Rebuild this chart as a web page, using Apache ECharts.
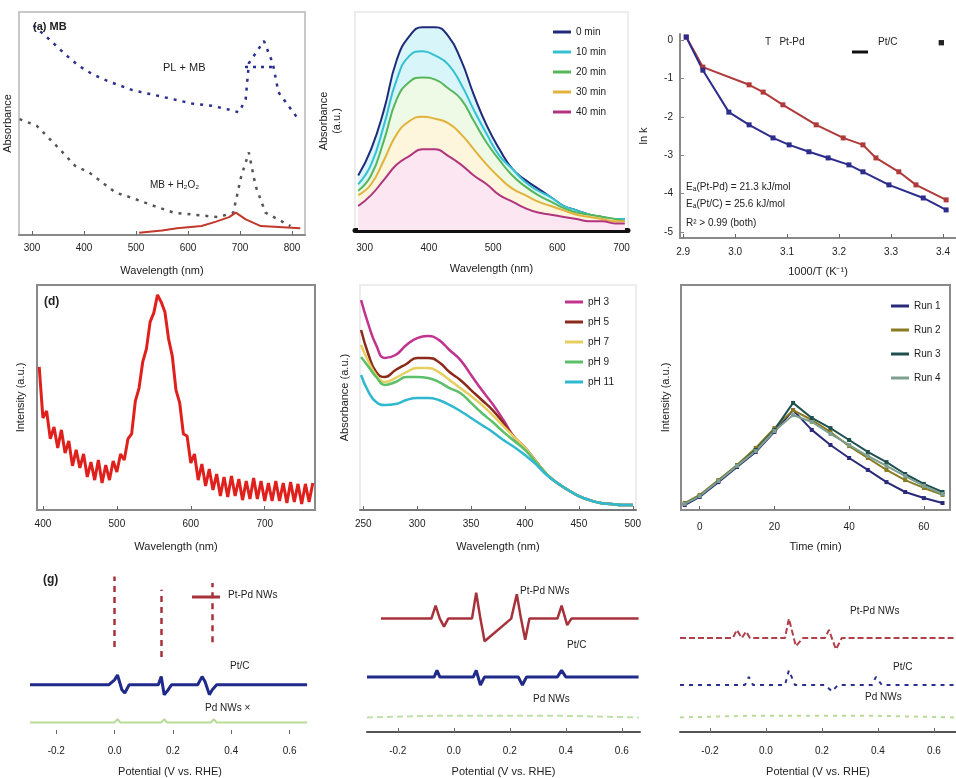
<!DOCTYPE html>
<html><head><meta charset="utf-8">
<script src="https://cdn.jsdelivr.net/npm/echarts@6/dist/echarts.min.js"></script>
<style>html,body{margin:0;padding:0;background:#fff}#c{width:956px;height:778px}</style>
</head><body><div id="c"></div>
<script>
// ---------- Panel (a) ----------
const aTicks = [300, 400, 500, 600, 700, 800];
const aX_A = [303,332,364,389,417,446,493,550,607,645,683,698,711,717,746,763,774,812];
const aY_A = [0.94,0.88,0.81,0.76,0.72,0.69,0.65,0.62,0.59,0.58,0.56,0.55,0.61,0.77,0.87,0.77,0.64,0.52];
const aX_B = [276,309,347,383,410,461,488,535,573,658,687,702,717,730,749,797];
const aY_B = [0.52,0.49,0.40,0.31,0.28,0.19,0.17,0.13,0.10,0.08,0.10,0.26,0.37,0.22,0.10,0.04];
const aX_C = [506,550,579,626,654,679,692,711,740,816];
const aY_C = [0.01,0.02,0.03,0.04,0.06,0.08,0.10,0.07,0.04,0.03];
// ---------- Panel (b) ----------
const bTicks = [300, 400, 500, 600, 700];
const bNames = ['0 min', '10 min', '20 min', '30 min', '40 min'];
const bX = [290,310,330,350,370,390,410,430,450,470,490,510,530,550,570,590,610,630,650,670,690,705];
const b1 = [0.25,0.37,0.55,0.78,0.89,0.93,0.93,0.89,0.78,0.62,0.48,0.37,0.28,0.23,0.19,0.15,0.11,0.09,0.07,0.06,0.05,0.05];
const b2 = [0.21,0.30,0.48,0.69,0.80,0.82,0.80,0.76,0.67,0.55,0.44,0.34,0.28,0.22,0.18,0.15,0.11,0.09,0.07,0.06,0.05,0.05];
const b3 = [0.18,0.25,0.41,0.60,0.68,0.70,0.69,0.65,0.60,0.50,0.40,0.32,0.25,0.20,0.16,0.13,0.10,0.08,0.07,0.06,0.05,0.04];
const b4 = [0.16,0.21,0.32,0.44,0.50,0.52,0.51,0.49,0.44,0.37,0.30,0.24,0.19,0.16,0.13,0.11,0.09,0.07,0.06,0.05,0.04,0.04];
const b5 = [0.11,0.16,0.23,0.30,0.34,0.37,0.37,0.34,0.30,0.25,0.21,0.16,0.13,0.10,0.08,0.07,0.06,0.05,0.04,0.04,0.03,0.03];
// ---------- Panel (c) ----------
const cXTicks = [2.9, 3.0, 3.1, 3.2, 3.3, 3.4];
const cYTicks = [-5, -4, -3, -2, -1, 0];
const cX_red = [2.906,2.938,3.027,3.054,3.092,3.156,3.208,3.246,3.271,3.315,3.348,3.406];
const cY_red = [0.07,-0.71,-1.17,-1.36,-1.69,-2.21,-2.55,-2.73,-3.07,-3.43,-3.77,-4.16];
const cX_blue = [2.906,2.938,2.988,3.027,3.073,3.104,3.142,3.179,3.219,3.246,3.296,3.362,3.406];
const cY_blue = [0.07,-0.79,-1.88,-2.21,-2.55,-2.73,-2.91,-3.07,-3.25,-3.43,-3.77,-4.11,-4.42];
// ---------- Panel (d) ----------
const dTicks = [400, 500, 600, 700];
const dX = [395,400,405,410,415,420,425,430,435,440,445,450,455,460,465,470,475,480,485,490,495,500,505,510,515,520,525,530,535,540,545,550,555,560,565,570,575,580,585,590,595,600,605,610,615,620,625,630,635,640,645,650,655,660,665,670,675,680,685,690,695,700,705,710,715,720,725,730,735,740,745,750,755,760,765];
const dY = [0.636,0.409,0.440,0.316,0.369,0.276,0.356,0.253,0.307,0.196,0.267,0.187,0.249,0.147,0.213,0.133,0.222,0.120,0.200,0.133,0.218,0.169,0.249,0.222,0.316,0.338,0.484,0.542,0.658,0.716,0.836,0.876,0.956,0.924,0.880,0.760,0.684,0.533,0.476,0.338,0.329,0.209,0.249,0.133,0.204,0.107,0.182,0.089,0.160,0.062,0.147,0.058,0.151,0.062,0.138,0.044,0.129,0.049,0.142,0.049,0.129,0.040,0.120,0.040,0.129,0.040,0.120,0.031,0.124,0.036,0.116,0.027,0.116,0.036,0.120];
// ---------- Panel (e) ----------
const eTicks = [250, 300, 350, 400, 450, 500];
const eNames = ['pH 3', 'pH 5', 'pH 7', 'pH 9', 'pH 11'];
const eX = [248,255,262,270,280,290,300,310,320,330,340,350,360,370,380,390,400,410,420,430,440,450,460,470,480,490,500];
const e1 = [0.933,0.822,0.733,0.676,0.689,0.733,0.764,0.773,0.756,0.711,0.667,0.600,0.533,0.471,0.400,0.324,0.276,0.218,0.160,0.120,0.089,0.062,0.044,0.031,0.027,0.022,0.022];
const e2 = [0.800,0.689,0.613,0.591,0.622,0.649,0.676,0.676,0.658,0.613,0.578,0.533,0.489,0.444,0.387,0.324,0.276,0.218,0.160,0.120,0.089,0.062,0.044,0.031,0.027,0.022,0.022];
const e3 = [0.733,0.658,0.600,0.569,0.587,0.613,0.631,0.631,0.613,0.578,0.542,0.507,0.467,0.422,0.373,0.324,0.276,0.218,0.160,0.120,0.089,0.062,0.044,0.031,0.027,0.022,0.022];
const e4 = [0.680,0.636,0.591,0.556,0.569,0.591,0.591,0.587,0.569,0.542,0.520,0.476,0.431,0.391,0.347,0.307,0.267,0.213,0.160,0.120,0.089,0.062,0.044,0.031,0.027,0.022,0.022];
const e5 = [0.600,0.524,0.480,0.467,0.471,0.489,0.498,0.498,0.489,0.467,0.440,0.409,0.378,0.347,0.311,0.280,0.244,0.204,0.156,0.120,0.089,0.062,0.044,0.031,0.027,0.022,0.022];
// ---------- Panel (f) ----------
const fTicks = [0, 20, 40, 60];
const fNames = ['Run 1', 'Run 2', 'Run 3', 'Run 4'];
const fX = [-4,0,5,10,15,20,25,30,35,40,45,50,55,60,65];
const f1 = [0.022,0.058,0.124,0.191,0.258,0.347,0.444,0.356,0.289,0.231,0.178,0.124,0.080,0.053,0.031];
const f2 = [0.031,0.067,0.133,0.200,0.276,0.364,0.444,0.400,0.347,0.284,0.231,0.178,0.133,0.098,0.067];
const f3 = [0.027,0.062,0.129,0.196,0.267,0.356,0.476,0.409,0.364,0.311,0.258,0.213,0.160,0.116,0.080];
const f4 = [0.027,0.062,0.129,0.196,0.262,0.351,0.422,0.391,0.338,0.289,0.240,0.196,0.151,0.107,0.071];
// ---------- Panels (g)(h)(i) ----------
const vTicks = [-0.2, 0.0, 0.2, 0.4, 0.6];
const gDashX = [0.0, 0.16, 0.335];
const gDashTop = [0.96, 0.88, 0.92];
const gDashBot = [0.53, 0.47, 0.56];
const gBlueX = [-0.29,-0.02,0.00,0.01,0.025,0.035,0.05,0.15,0.16,0.17,0.18,0.195,0.285,0.30,0.31,0.325,0.335,0.35,0.66];
const gBlueY = [0.30,0.30,0.33,0.36,0.27,0.25,0.30,0.30,0.35,0.24,0.26,0.30,0.30,0.35,0.32,0.24,0.27,0.30,0.30];
const gGreenX = [-0.29,0.0,0.01,0.02,0.16,0.17,0.18,0.33,0.34,0.35,0.66];
const gGreenY = [0.07,0.07,0.09,0.07,0.07,0.09,0.07,0.07,0.09,0.07,0.07];
const hRedX = [-0.26,-0.08,-0.065,-0.05,-0.035,-0.02,0.065,0.08,0.095,0.11,0.205,0.225,0.24,0.255,0.27,0.37,0.385,0.405,0.42,0.66];
const hRedY = [0.70,0.70,0.78,0.70,0.65,0.70,0.70,0.86,0.70,0.56,0.70,0.85,0.70,0.57,0.70,0.70,0.78,0.66,0.70,0.70];
const hBlueX = [-0.31,-0.07,-0.06,-0.05,0.07,0.08,0.095,0.11,0.23,0.245,0.26,0.37,0.385,0.40,0.66];
const hBlueY = [0.34,0.34,0.38,0.34,0.34,0.38,0.29,0.34,0.34,0.29,0.34,0.34,0.38,0.34,0.34];
const hGreenX = [-0.31,-0.065,0.08,0.24,0.385,0.66];
const hGreenY = [0.09,0.10,0.10,0.10,0.10,0.09];
const iRedX = [-0.307,-0.118,-0.104,-0.086,-0.071,-0.057,0.068,0.082,0.107,0.132,0.211,0.225,0.25,0.271,0.679];
const iRedY = [0.58,0.58,0.63,0.58,0.62,0.58,0.58,0.70,0.53,0.58,0.58,0.63,0.51,0.58,0.58];
const iBlueX = [-0.307,-0.075,-0.061,-0.046,0.068,0.082,0.104,0.211,0.236,0.257,0.379,0.393,0.414,0.679];
const iBlueY = [0.29,0.29,0.34,0.29,0.29,0.38,0.29,0.29,0.25,0.29,0.29,0.34,0.29,0.29];
const iGreenX = [-0.307,-0.06,0.08,0.23,0.39,0.679];
const iGreenY = [0.09,0.10,0.10,0.10,0.10,0.09];

const zip = (xs, ys) => xs.map((x, i) => [x, ys[i]]);
const FONT = 'Liberation Sans, Arial, sans-serif';
const TXT = '#222';

const grids = [
  {left: 15, top: 12, width: 290, height: 223, show: true, borderColor: '#c8c8c8', borderWidth: 2},
  {left: 355, top: 12, width: 273, height: 218, show: true, borderColor: '#ececec', borderWidth: 2},
  {left: 680, top: 34, width: 276, height: 204},
  {left: 37, top: 285, width: 278, height: 225, show: true, borderColor: '#8a8a8a', borderWidth: 2},
  {left: 360, top: 285, width: 276, height: 225, show: true, borderColor: '#ececec', borderWidth: 2},
  {left: 681, top: 285, width: 269, height: 225, show: true, borderColor: '#8a8a8a', borderWidth: 2},
  {left: 30, top: 570, width: 280, height: 165},
  {left: 367, top: 570, width: 273, height: 162},
  {left: 680, top: 570, width: 276, height: 162}
];

function xAx(gi, min, max, ticks, name, o) {
  o = o || {};
  return {
    type: 'value', gridIndex: gi, min: min, max: max,
    name: name, nameLocation: 'middle', nameGap: o.nameGap || 30,
    nameTextStyle: {fontSize: 11, color: TXT, fontFamily: FONT},
    axisLine: {show: o.line !== false, onZero: false, lineStyle: {color: o.lineColor || '#8a8a8a', width: o.lineWidth || 2}},
    axisTick: {show: true, inside: true, length: 4, customValues: ticks, lineStyle: {color: '#666'}},
    axisLabel: {customValues: ticks, fontSize: 10, color: TXT, fontFamily: FONT, margin: o.margin || 9,
      formatter: o.fmt || (v => String(v))},
    splitLine: {show: false}
  };
}
function yAx(gi, min, max, name, o) {
  o = o || {};
  return {
    type: 'value', gridIndex: gi, min: min, max: max,
    name: name, nameLocation: 'middle', nameGap: o.nameGap || 10, nameRotate: 90,
    nameTextStyle: {fontSize: 11, color: TXT, fontFamily: FONT, lineHeight: 13},
    axisLine: {show: !!o.line, lineStyle: {color: '#8a8a8a', width: 2}},
    axisTick: {show: !!o.ticks, inside: true, length: 4, customValues: o.ticks},
    axisLabel: o.ticks ? {customValues: o.ticks, fontSize: 10, color: TXT, fontFamily: FONT, margin: 7} : {show: false},
    splitLine: {show: false}
  };
}

const xAxes = [
  xAx(0, 275, 825, aTicks, 'Wavelength (nm)', {nameGap: 30, margin: 8}),
  xAx(1, 285, 710, bTicks, 'Wavelength (nm)', {nameGap: 33, margin: 13, lineColor: '#111', lineWidth: 5}),
  xAx(2, 2.894, 3.425, cXTicks, '1000/T (K\u207B\u00B9)', {nameGap: 28, margin: 9, fmt: v => v.toFixed(1)}),
  xAx(3, 392, 768, dTicks, 'Wavelength (nm)', {nameGap: 31, margin: 9}),
  xAx(4, 247, 503, eTicks, 'Wavelength (nm)', {nameGap: 31, margin: 9, lineColor: '#777'}),
  xAx(5, -5, 67, fTicks, 'Time (min)', {nameGap: 31, margin: 12}),
  xAx(6, -0.29, 0.67, vTicks, 'Potential (V vs. RHE)', {nameGap: 32, margin: 12, line: false, fmt: v => v.toFixed(1)}),
  xAx(7, -0.31, 0.665, vTicks, 'Potential (V vs. RHE)', {nameGap: 34, margin: 14, lineColor: '#555', fmt: v => v.toFixed(1)}),
  xAx(8, -0.307, 0.679, vTicks, 'Potential (V vs. RHE)', {nameGap: 34, margin: 14, lineColor: '#555', fmt: v => v.toFixed(1)})
];
const yAxes = [
  yAx(0, 0, 1, 'Absorbance', {nameGap: 5}),
  yAx(1, 0, 1, 'Absorbance\n(a.u.)', {nameGap: 12}),
  yAx(2, -5.15, 0.15, 'ln k', {nameGap: 30, ticks: cYTicks, line: true}),
  yAx(3, 0, 1, 'Intensity (a.u.)', {nameGap: 10}),
  yAx(4, 0, 1, 'Absorbance (a.u.)', {nameGap: 9}),
  yAx(5, 0, 1, 'Intensity (a.u.)', {nameGap: 9}),
  yAx(6, 0, 1, ''),
  yAx(7, 0, 1, ''),
  yAx(8, 0, 1, '')
];

function line(name, gi, data, color, o) {
  o = o || {};
  return {
    name: name, type: 'line', xAxisIndex: gi, yAxisIndex: gi, data: data,
    showSymbol: !!o.symbol, symbol: o.symbol || 'none', symbolSize: o.symbolSize || 5,
    itemStyle: {color: color}, smooth: !!o.smooth,
    lineStyle: {color: color, width: o.width || 2, type: o.type || 'solid'},
    areaStyle: o.area ? {color: o.areaColor || color, opacity: o.area} : undefined,
    z: o.z || 2
  };
}

const bColors = ['#1f2a7a', '#35c0d2', '#58b65a', '#e2b23a', '#b2347e'];
const bFill = ['#d8f6fa', '#d8f6fa', '#eef9e6', '#fdf6dc', '#fbe6f1'];
const eColors = ['#c2338f', '#8b2a1a', '#e6cf5e', '#5cbf6a', '#2fb8d0'];
const fColors = ['#2a2a7a', '#8a7a20', '#1f4f4f', '#7fa090'];

const series = [
  line('MB+PL', 0, zip(aX_A, aY_A), '#2b2f8f', {type: [3, 6], width: 2.5}),
  line('MB', 0, zip(aX_B, aY_B), '#555555', {type: [3, 6], width: 2.5}),
  line('H2O2', 0, zip(aX_C, aY_C), '#c0392b', {width: 2})
];
[b1, b2, b3, b4, b5].forEach((arr, i) => series.push(line(bNames[i], 1, zip(bX, arr), bColors[i], {smooth: true, area: 1, areaColor: bFill[i], z: 2 + i})));
series.push(line('Pt-Pd', 2, zip(cX_red, cY_red), '#b03a3a', {symbol: 'rect', symbolSize: 5}));
series.push(line('Pt/C', 2, zip(cX_blue, cY_blue), '#2c2c8c', {symbol: 'rect', symbolSize: 5}));
series.push(line('PL', 3, zip(dX, dY), '#e0201c', {width: 3}));
[e1, e2, e3, e4, e5].forEach((arr, i) => series.push(line(eNames[i], 4, zip(eX, arr), eColors[i], {smooth: true, width: 2.5})));
[f1, f2, f3, f4].forEach((arr, i) => series.push(line(fNames[i], 5, zip(fX, arr), fColors[i], {symbol: 'rect', symbolSize: 4})));
series.push({
  type: 'line', xAxisIndex: 6, yAxisIndex: 6, data: [], silent: true,
  markLine: {symbol: 'none', silent: true, label: {show: false},
    lineStyle: {color: '#a8323c', type: [6, 5], width: 2.5},
    data: gDashX.map((x, i) => [{coord: [x, gDashBot[i]]}, {coord: [x, gDashTop[i]]}])}
});
series.push(line('g-blue', 6, zip(gBlueX, gBlueY), '#1f2a8a', {width: 3}));
series.push(line('g-green', 6, zip(gGreenX, gGreenY), '#b8dc98', {width: 2}));
series.push(line('h-red', 7, zip(hRedX, hRedY), '#a8323c', {width: 2.5}));
series.push(line('h-blue', 7, zip(hBlueX, hBlueY), '#1f2a8a', {width: 3}));
series.push(line('h-green', 7, zip(hGreenX, hGreenY), '#bfe0a8', {width: 2, type: [6, 4]}));
series.push(line('i-red', 8, zip(iRedX, iRedY), '#b0404a', {width: 2, type: [6, 3]}));
series.push(line('i-blue', 8, zip(iBlueX, iBlueY), '#2a2f90', {width: 2, type: [4, 5]}));
series.push(line('i-green', 8, zip(iGreenX, iGreenY), '#b8dc98', {width: 2, type: [4, 5]}));

function txt(x, y, s, o) {
  o = o || {};
  return {type: 'text', left: x, top: y, z: 10,
    style: {text: s, fontSize: o.size || 10, fill: o.color || TXT, fontFamily: FONT, fontWeight: o.bold ? 'bold' : 'normal'}};
}
function seg(x1, y1, x2, y2, color, w, dash) {
  return {type: 'line', z: 10, shape: {x1: x1, y1: y1, x2: x2, y2: y2}, style: {stroke: color, lineWidth: w || 2, lineDash: dash}};
}

const graphics = [
  txt(33, 21, '(a) MB', {size: 11, bold: true}),
  txt(163, 62, 'PL + MB', {size: 11}),
  seg(245, 67, 275, 67, '#2b2f8f', 2.5, [3, 5]),
  txt(150, 180, 'MB + H\u2082O\u2082', {size: 10}),
  txt(765, 37, 'T   Pt-Pd', {size: 10}),
  seg(852, 52, 868, 52, '#111', 3),
  txt(878, 37, 'Pt/C', {size: 10}),
  txt(938, 37, '\u25A0', {size: 11}),
  txt(686, 182, 'E\u2090(Pt-Pd) = 21.3 kJ/mol', {size: 10}),
  txt(686, 199, 'E\u2090(Pt/C) = 25.6 kJ/mol', {size: 10}),
  txt(686, 218, 'R\u00B2 > 0.99 (both)', {size: 10}),
  txt(44, 296, '(d)', {size: 12, bold: true}),
  txt(43, 574, '(g)', {size: 12, bold: true}),
  seg(192, 597, 220, 597, '#a8323c', 3),
  txt(228, 590, 'Pt-Pd NWs', {size: 10}),
  txt(230, 661, 'Pt/C', {size: 10}),
  txt(205, 703, 'Pd NWs \u00D7', {size: 10}),
  txt(520, 586, 'Pt-Pd NWs', {size: 10}),
  txt(567, 640, 'Pt/C', {size: 10}),
  txt(533, 694, 'Pd NWs', {size: 10}),
  txt(850, 606, 'Pt-Pd NWs', {size: 10}),
  txt(893, 662, 'Pt/C', {size: 10}),
  txt(865, 692, 'Pd NWs', {size: 10})
];

const legendBase = {orient: 'vertical', icon: 'rect', itemWidth: 18, itemHeight: 3,
  textStyle: {fontSize: 10, color: TXT, fontFamily: FONT}};
const option = {
  animation: false,
  backgroundColor: '#ffffff',
  grid: grids,
  xAxis: xAxes,
  yAxis: yAxes,
  legend: [
    Object.assign({}, legendBase, {left: 548, top: 22, itemGap: 10, data: bNames}),
    Object.assign({}, legendBase, {left: 560, top: 292, itemGap: 10, data: eNames}),
    Object.assign({}, legendBase, {left: 886, top: 296, itemGap: 14, data: fNames})
  ],
  series: series,
  graphic: graphics
};
const chart = echarts.init(document.getElementById('c'), null, {renderer: 'canvas'});
chart.setOption(option);
</script></body></html>
